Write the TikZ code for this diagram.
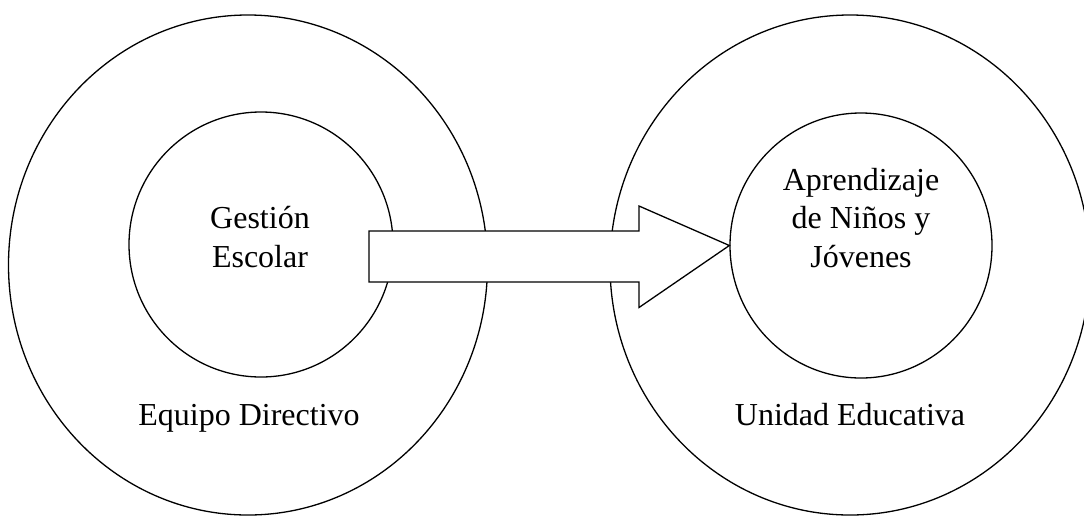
\documentclass[tikz,border=0pt]{standalone}
\usepackage{fontspec}
\setmainfont{Liberation Serif}
\usetikzlibrary{shapes.geometric}
\begin{document}
\begin{tikzpicture}[x=1pt,y=-1pt,
  ring/.style={draw=black,line width=1.3pt,ellipse,inner sep=0pt},
  lbl/.style={align=center,inner sep=0pt,font=\fontsize{32}{38.5}\selectfont},
  blockarrow/.style={draw=black,fill=white,line width=1.3pt,line join=miter}]
\clip (0,0) rectangle (1084,515);
\fill[white] (0,0) rectangle (1084,515);
% outer rings
\node[ring,minimum width=479pt,minimum height=500pt] (outerL) at (248,265) {};
\node[ring,minimum width=480pt,minimum height=500pt] (outerR) at (850,265) {};
% inner circles
\node[ring,minimum width=264pt,minimum height=265pt] (innerL) at (261,244.5) {};
\node[ring,minimum width=262pt,minimum height=265pt] (innerR) at (861,245.5) {};
% block arrow
\coordinate (tip) at (innerR.west);
\draw[blockarrow] (369,231) -- (639,231) -- (639,206) -- (tip) -- (639,307.5) -- (639,282) -- (369,282) -- cycle;
% labels (base anchor = baseline of last line)
\node[lbl,anchor=base] (gest) at (260,267) {Gestión\\Escolar};
\node[lbl,anchor=base] (equipo) at (249,425) {Equipo Directivo};
\node[lbl,anchor=base] (apr) at (861,267) {Aprendizaje\\de Niños y\\Jóvenes};
\node[lbl,anchor=base] (unidad) at (850,425) {Unidad Educativa};
\end{tikzpicture}
\end{document}
